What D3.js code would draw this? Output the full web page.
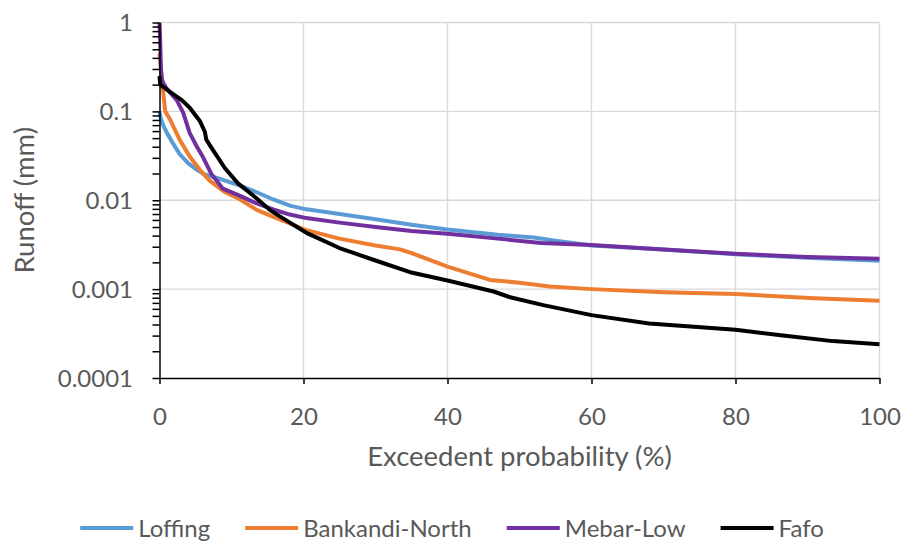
<!DOCTYPE html>
<html>
<head>
<meta charset="utf-8">
<style>
body { margin: 0; background: #fff; }
text { font-family: Lato, "Open Sans", sans-serif; fill: #595959; }
.grid line { stroke: #d9d9d9; stroke-width: 1.3px; }
.series { fill: none; stroke-width: 4px; stroke-linejoin: round; }
</style>
</head>
<body>
<script src="https://cdn.jsdelivr.net/npm/d3@7"></script>
<script>

// flow duration curves
var seriesNames = ["Loffing", "Bankandi-North", "Mebar-Low", "Fafo"];
var seriesColors = ["#5b9bd5", "#ed7d31", "#7030a0", "#000000"];

var loffingProb = [0, 0.15, 0.5, 1, 1.7, 2.8, 4, 5.2, 6.3, 8.8, 11.2, 13.5, 15.8, 18.1, 20.4, 25, 30, 35, 40, 47, 52, 55, 60, 70, 80, 90, 100];
var loffingRunoff = [0.1, 0.085, 0.07, 0.058, 0.046, 0.033, 0.026, 0.022, 0.0195, 0.017, 0.0146, 0.0123, 0.0102, 0.0087, 0.0079, 0.0070, 0.0061, 0.0053, 0.0047, 0.0041, 0.0038, 0.0035, 0.0031, 0.0028, 0.00247, 0.00225, 0.00208];

var bankandiProb = [0, 0.4, 0.8, 1.5, 2.8, 4.2, 5.6, 7, 9, 11.2, 13.5, 15.8, 18.1, 20.4, 25, 30, 33.4, 35.3, 40, 45.9, 50, 54.2, 60, 70, 80, 91, 100];
var bankandiRunoff = [0.45, 0.2, 0.1, 0.08, 0.048, 0.031, 0.022, 0.0165, 0.0125, 0.0102, 0.0078, 0.0065, 0.0055, 0.0046, 0.0037, 0.0031, 0.0028, 0.0025, 0.00179, 0.00127, 0.00118, 0.00107, 0.001, 0.00092, 0.00088, 0.00079, 0.00074];

var mebarProb = [0, 0.1, 0.2, 0.3, 0.5, 1, 2.4, 3.3, 4.2, 5.2, 6, 7.2, 8.8, 11.2, 13.5, 15.8, 18.1, 20.4, 25, 30, 35, 40, 47, 53, 60, 70, 80, 90, 100];
var mebarRunoff = [1.0, 0.6, 0.3, 0.236, 0.21, 0.18, 0.134, 0.096, 0.057, 0.04, 0.031, 0.0198, 0.0135, 0.0112, 0.0092, 0.0079, 0.0069, 0.0063, 0.0056, 0.0050, 0.0045, 0.0042, 0.0037, 0.0033, 0.00314, 0.0028, 0.0025, 0.0023, 0.00219];

var fafoProb = [0, 0.1, 1.5, 3.1, 4.2, 5.6, 6.3, 6.5, 7.5, 9.1, 10.9, 13.3, 15.3, 18.1, 20.4, 25, 30, 34.8, 40, 46.4, 48.7, 53.3, 60, 68, 80, 86.6, 93.5, 100];
var fafoRunoff = [0.25, 0.2, 0.165, 0.134, 0.11, 0.078, 0.059, 0.048, 0.036, 0.0229, 0.0155, 0.0108, 0.0078, 0.0056, 0.0043, 0.0029, 0.0021, 0.00155, 0.00125, 0.00094, 0.00081, 0.00066, 0.00051, 0.00041, 0.00035, 0.0003, 0.00026, 0.00024];

var xTicks = [0, 20, 40, 60, 80, 100];
var yDecades = [1, 0.1, 0.01, 0.001, 0.0001];
var yLabels = ["1", "0.1", "0.01", "0.001", "0.0001"];

var probs = [loffingProb, bankandiProb, mebarProb, fafoProb];
var runoffs = [loffingRunoff, bankandiRunoff, mebarRunoff, fafoRunoff];

var width = 904, height = 543;
var plotLeft = 159.5, plotRight = 879.5, plotTop = 22.5, plotBottom = 378;

var x = d3.scaleLinear().domain([0, 100]).range([plotLeft, plotRight]);
var y = d3.scaleLog().domain([0.0001, 1]).range([plotBottom, plotTop]);

var svg = d3.select("body").append("svg")
    .attr("width", width)
    .attr("height", height);

svg.append("rect").attr("width", width).attr("height", height).attr("fill", "#fff");

// gridlines
var grid = svg.append("g").attr("class", "grid");
grid.selectAll(".h").data(yDecades.slice(0, 4)).enter().append("line")
    .attr("x1", plotLeft).attr("x2", plotRight)
    .attr("y1", function(d) { return y(d); })
    .attr("y2", function(d) { return y(d); });
grid.selectAll(".v").data(xTicks.slice(1)).enter().append("line")
    .attr("x1", function(d) { return x(d); })
    .attr("x2", function(d) { return x(d); })
    .attr("y1", plotTop).attr("y2", plotBottom);

// series
var line = d3.line()
    .x(function(d) { return x(d[0]); })
    .y(function(d) { return y(d[1]); });

seriesNames.forEach(function(name, i) {
  var pts = probs[i].map(function(p, j) { return [p, runoffs[i][j]]; });
  svg.append("path")
      .attr("class", "series")
      .attr("d", line(pts))
      .style("stroke", seriesColors[i]);
});

// y axis with minor log ticks
var minor = [];
for (var e = -4; e < 0; e++) {
  for (var m = 1; m < 10; m++) minor.push(m * Math.pow(10, e));
}
minor.push(1);

var yAxis = svg.append("g")
    .attr("transform", "translate(" + plotLeft + ",0)")
    .call(d3.axisLeft(y).tickValues(minor).tickSize(7).tickSizeOuter(0).tickFormat(""));
yAxis.select(".domain").attr("stroke", "#000").attr("stroke-width", 1.5);
yAxis.selectAll(".tick line").attr("stroke", "#000").attr("stroke-width", 1.5);

svg.append("g").selectAll("text").data(yDecades).enter().append("text")
    .attr("x", 133)
    .attr("y", function(d) { return y(d); })
    .attr("dy", "0.36em")
    .attr("text-anchor", "end")
    .style("font-size", "24px")
    .text(function(d, i) { return yLabels[i]; });

// x axis
var xAxis = svg.append("g")
    .attr("transform", "translate(0," + plotBottom + ")")
    .call(d3.axisBottom(x).tickValues(xTicks).tickSize(6).tickSizeOuter(0).tickPadding(24));
xAxis.select(".domain").attr("stroke", "#000").attr("stroke-width", 1.5);
xAxis.selectAll(".tick line").attr("stroke", "#000").attr("stroke-width", 1.5);
xAxis.selectAll(".tick text")
    .attr("fill", "#595959")
    .style("font-size", "24px")
    .style("font-family", "Lato, sans-serif");

// axis titles
svg.append("text")
    .attr("x", (plotLeft + plotRight) / 2)
    .attr("y", 466)
    .attr("text-anchor", "middle")
    .style("font-size", "27.5px")
    .text("Exceedent probability (%)");

svg.append("text")
    .attr("transform", "translate(34," + ((plotTop + plotBottom) / 2) + ") rotate(-90)")
    .attr("text-anchor", "middle")
    .style("font-size", "27.5px")
    .text("Runoff (mm)");

// legend, centred on the whole picture
var legend = svg.append("g");
var items = legend.selectAll("g").data(seriesNames).enter().append("g");
items.append("line")
    .attr("x1", 0).attr("x2", 53)
    .attr("y1", 528).attr("y2", 528)
    .attr("stroke-width", 4)
    .attr("stroke", function(d, i) { return seriesColors[i]; });
items.append("text")
    .attr("x", 58)
    .attr("y", 537)
    .style("font-size", "24px")
    .text(function(d) { return d; });

var offset = 0;
items.each(function() {
  var w = 58 + d3.select(this).select("text").node().getComputedTextLength();
  d3.select(this).attr("transform", "translate(" + offset + ",0)");
  offset += w + 35;
});
offset -= 35;
legend.attr("transform", "translate(" + ((width - offset) / 2) + ",0)");

</script>
</body>
</html>
